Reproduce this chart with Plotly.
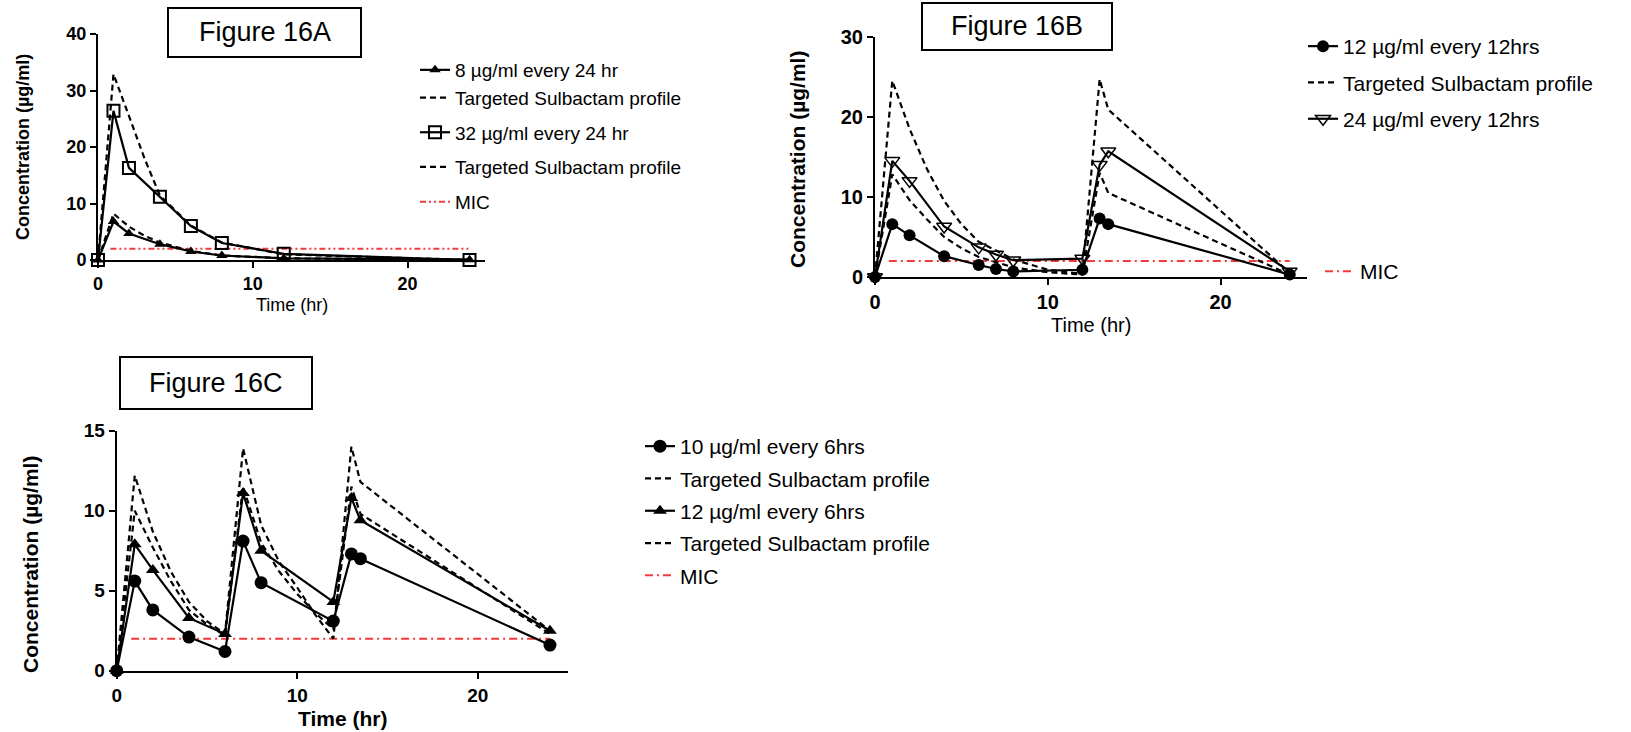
import plotly.graph_objects as go

W, H = 1631, 732

def px(x):
    return x / W

def py(y):
    return 1 - y / H

# ---------------- Data ----------------
# Figure 16A
a_time = [0, 1, 2, 4, 6, 8, 12, 24]
a_dose8 = [0, 6.8, 4.7, 2.8, 1.5, 0.8, 0.3, 0.05]
a_dose32 = [0, 26.4, 16.3, 11.2, 6.0, 3.0, 1.1, 0.0]
a_target_time = [0, 1, 2, 3, 4, 6, 8, 12, 24]
a_target8 = [0, 8.2, 5.9, 4.3, 3.1, 1.6, 0.8, 0.3, 0.0]
a_target32 = [0, 32.9, 25.5, 18.0, 11.4, 6.1, 3.1, 1.0, 0.0]

# Figure 16B
b_time = [0, 1, 2, 4, 6, 7, 8, 12, 13, 13.5, 24]
b_dose12 = [0, 6.6, 5.2, 2.6, 1.5, 1.0, 0.7, 0.9, 7.3, 6.6, 0.3]
b_dose24 = [0, 14.5, 12.0, 6.3, 3.7, 2.8, 2.1, 2.3, 14.0, 15.7, 0.7]
b_target_time = [0, 1, 2, 3, 4, 5, 6, 8, 10, 12, 13, 13.5, 24]
b_target12 = [0, 12.8, 9.6, 7.2, 5.0, 3.6, 2.5, 1.2, 0.6, 0.3, 13.0, 10.5, 0.3]
b_target24 = [0, 24.5, 18.5, 13.5, 9.5, 6.6, 4.4, 2.2, 0.9, 0.4, 24.7, 20.9, 0.5]

# Figure 16C
c_time = [0, 1, 2, 4, 6, 7, 8, 12, 13, 13.5, 24]
c_dose10 = [0, 5.6, 3.8, 2.1, 1.2, 8.1, 5.5, 3.1, 7.3, 7.0, 1.6]
c_dose12 = [0, 7.9, 6.3, 3.3, 2.3, 11.1, 7.5, 4.3, 10.8, 9.4, 2.5]
c_target_time = [0, 1, 2, 3, 4, 5, 6, 7, 8, 9, 10, 11, 12, 13, 13.5, 24]
c_target10 = [0, 10.0, 7.7, 5.6, 3.8, 2.9, 2.2, 11.5, 8.0, 6.2, 4.8, 3.6, 2.6, 11.5, 9.8, 2.3]
c_target12 = [0, 12.2, 8.7, 6.2, 4.3, 3.1, 2.3, 13.9, 9.1, 6.8, 5.2, 3.5, 2.0, 14.0, 11.8, 2.5]

# MIC
mic_time = [0.8, 24]
mic_value = [2, 2]

# Labels
a_names = ["8 µg/ml every 24 hr", "Targeted Sulbactam profile", "32 µg/ml every 24 hr",
           "Targeted Sulbactam profile", "MIC"]
b_names = ["12 µg/ml every 12hrs", "Targeted Sulbactam profile", "24 µg/ml every 12hrs", "MIC"]
c_names = ["10 µg/ml every 6hrs", "Targeted Sulbactam profile", "12 µg/ml every 6hrs",
           "Targeted Sulbactam profile", "MIC"]
panel_titles = ["Figure 16A", "Figure 16B", "Figure 16C"]
y_title = "Concentration (µg/ml)"
x_title = "Time (hr)"

FONT = "Arial, 'Liberation Sans', sans-serif"
BLACK = "black"
RED = "#f23a3a"
DASH = "6px,4px"

fig = go.Figure()

def solid(x, y, name, sym, size, xa, ya, leg, grp, rank, mlw=0, show=True):
    fig.add_trace(go.Scatter(
        x=x, y=y, name=name, mode="lines+markers",
        line=dict(color=BLACK, width=2.2),
        marker=dict(symbol=sym, size=size, color=BLACK, line=dict(color=BLACK, width=mlw)),
        xaxis=xa, yaxis=ya, legend=leg, legendgroup=grp, legendrank=rank,
        showlegend=show, cliponaxis=False))

def dashed(x, y, name, xa, ya, leg, grp, rank, show=True):
    fig.add_trace(go.Scatter(
        x=x, y=y, name=name, mode="lines",
        line=dict(color=BLACK, width=2.2, dash=DASH),
        xaxis=xa, yaxis=ya, legend=leg, legendgroup=grp, legendrank=rank,
        showlegend=show, cliponaxis=False))

def mic(xa, ya, leg, grp, rank, dash):
    fig.add_trace(go.Scatter(
        x=mic_time, y=mic_value, name="MIC", mode="lines",
        line=dict(color=RED, width=2, dash=dash),
        xaxis=xa, yaxis=ya, legend=leg, legendgroup=grp, legendrank=rank,
        cliponaxis=False))

# Panel A
mic("x", "y", "legend", "a4", 5, "6px,3px,2px,3px,2px,3px")
solid(a_time, a_dose8, a_names[0], "triangle-up", 10, "x", "y", "legend", "a1", 1)
dashed(a_target_time, a_target8, a_names[1], "x", "y", "legend", "a1", 2)
solid(a_time, a_dose32, a_names[2], "square-open", 12, "x", "y", "legend", "a2", 3, mlw=2)
dashed(a_target_time, a_target32, a_names[3], "x", "y", "legend", "a3", 4)

# Panel B
mic("x2", "y2", "legend4", "b4", 1, "8px,4px,2px,4px")
solid(b_time, b_dose12, b_names[0], "circle", 12, "x2", "y2", "legend2", "b1", 1)
dashed(b_target_time, b_target12, b_names[1], "x2", "y2", "legend2", "b2", 2)
dashed(b_target_time, b_target24, b_names[1], "x2", "y2", "legend2", "b2", 2, show=False)
solid(b_time, b_dose24, b_names[2], "triangle-down-open", 13, "x2", "y2", "legend2", "b3", 3, mlw=1.5)

# Panel C
mic("x3", "y3", "legend3", "c5", 5, "8px,4px,2px,4px")
solid(c_time, c_dose10, c_names[0], "circle", 13, "x3", "y3", "legend3", "c1", 1)
dashed(c_target_time, c_target10, c_names[1], "x3", "y3", "legend3", "c2", 2)
solid(c_time, c_dose12, c_names[2], "triangle-up", 12, "x3", "y3", "legend3", "c3", 3)
dashed(c_target_time, c_target12, c_names[3], "x3", "y3", "legend3", "c4", 4)

axis_common = dict(showline=True, linecolor=BLACK, linewidth=2, ticks="outside",
                   ticklen=6, tickwidth=2, tickcolor=BLACK, showgrid=False,
                   zeroline=False, automargin=False, fixedrange=True)

def tickfont(s):
    return dict(family=FONT, size=s, color=BLACK, weight="bold")

fig.update_layout(
    width=W, height=H, margin=dict(l=0, r=0, t=0, b=0),
    paper_bgcolor="white", plot_bgcolor="white",
    font=dict(family=FONT, color=BLACK),
    xaxis=dict(domain=[px(98), px(485)], range=[0, 25], tickvals=[0, 10, 20],
               anchor="y", tickfont=tickfont(18), **axis_common),
    yaxis=dict(domain=[py(260), py(34)], range=[0, 40], tickvals=[0, 10, 20, 30, 40],
               anchor="x", tickfont=tickfont(18), **axis_common),
    xaxis2=dict(domain=[px(875), px(1307)], range=[0, 25], tickvals=[0, 10, 20],
                anchor="y2", tickfont=tickfont(20), **axis_common),
    yaxis2=dict(domain=[py(277), py(36.7)], range=[0, 30], tickvals=[0, 10, 20, 30],
                anchor="x2", tickfont=tickfont(20), **axis_common),
    xaxis3=dict(domain=[px(116.7), px(568)], range=[0, 25], tickvals=[0, 10, 20],
                anchor="y3", tickfont=tickfont(19), **axis_common),
    yaxis3=dict(domain=[py(670.7), py(430.7)], range=[0, 15], tickvals=[0, 5, 10, 15],
                anchor="x3", tickfont=tickfont(19), **axis_common),
    legend=dict(x=px(415), y=py(51), xanchor="left", yanchor="top",
                font=dict(family=FONT, size=19, color=BLACK), bgcolor="rgba(0,0,0,0)",
                traceorder="grouped", tracegroupgap=7, itemwidth=30),
    legend2=dict(x=px(1303), y=py(26), xanchor="left", yanchor="top",
                 font=dict(family=FONT, size=21, color=BLACK), bgcolor="rgba(0,0,0,0)",
                 traceorder="grouped", tracegroupgap=6, itemwidth=30),
    legend3=dict(x=px(640), y=py(426), xanchor="left", yanchor="top",
                 font=dict(family=FONT, size=21, color=BLACK), bgcolor="rgba(0,0,0,0)",
                 traceorder="grouped", tracegroupgap=2, itemwidth=30),
    legend4=dict(x=px(1320), y=py(251), xanchor="left", yanchor="top",
                 font=dict(family=FONT, size=21, color=BLACK), bgcolor="rgba(0,0,0,0)",
                 itemwidth=30),
)

# Title boxes
boxes = [(168, 8, 361, 57), (922, 3, 1112, 50), (120, 357, 312, 409)]
for (x0, y0, x1, y1), t in zip(boxes, panel_titles):
    fig.add_shape(type="rect", xref="paper", yref="paper",
                  x0=px(x0), x1=px(x1), y0=py(y1), y1=py(y0),
                  line=dict(color=BLACK, width=2), fillcolor="rgba(0,0,0,0)")
    fig.add_annotation(x=px((x0 + x1) / 2), y=py((y0 + y1) / 2), xref="paper", yref="paper",
                       text=t, showarrow=False, xanchor="center", yanchor="middle",
                       font=dict(family=FONT, size=27, color=BLACK))

# Axis titles
def ann(x, y, text, size, bold, angle=0):
    fig.add_annotation(x=px(x), y=py(y), xref="paper", yref="paper", text=text,
                       showarrow=False, xanchor="center", yanchor="middle", textangle=angle,
                       font=dict(family=FONT, size=size, color=BLACK,
                                 weight="bold" if bold else "normal"))

ann(23, 147, y_title, 18, True, -90)
ann(291.5, 305, x_title, 18, False)
ann(797, 160, y_title, 21, True, -90)
ann(1091, 325, x_title, 20, False)
ann(30, 565, y_title, 21, True, -90)
ann(342, 718, x_title, 21, True)

fig.write_html("out.html")
